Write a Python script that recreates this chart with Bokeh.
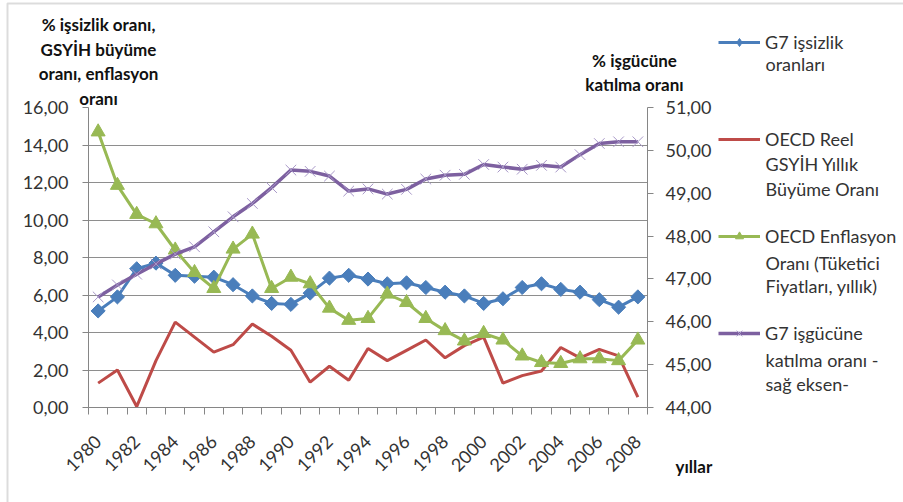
import numpy as np
from bokeh.plotting import figure
from bokeh.models import (Range1d, LinearAxis, FixedTicker, Label, Legend, LegendItem,
                          BoxAnnotation)
from bokeh.embed import file_html
from bokeh.resources import INLINE

years = list(range(1980, 2009))
unemployment = [5.15, 5.9, 7.4, 7.7, 7.05, 7.0, 6.95, 6.55, 5.95, 5.55, 5.5, 6.1, 6.9, 7.05, 6.85,
                6.6, 6.65, 6.4, 6.15, 5.95, 5.55, 5.8, 6.4, 6.6, 6.3, 6.15, 5.75, 5.35, 5.9]
gdp_growth = [1.3, 2.0, 0.05, 2.5, 4.55, 3.75, 2.95, 3.35, 4.45, 3.8, 3.05, 1.35, 2.2, 1.45, 3.15,
              2.5, 3.05, 3.6, 2.65, 3.3, 3.75, 1.3, 1.7, 1.95, 3.2, 2.65, 3.1, 2.75, 0.55]
inflation = [14.7, 11.85, 10.3, 9.8, 8.4, 7.2, 6.35, 8.45, 9.25, 6.35, 6.95, 6.6, 5.3, 4.65, 4.75,
             6.05, 5.6, 4.75, 4.1, 3.55, 3.95, 3.6, 2.75, 2.4, 2.35, 2.6, 2.6, 2.5, 3.6]
participation = [46.58, 46.86, 47.11, 47.35, 47.58, 47.75, 48.1, 48.45, 48.76, 49.13, 49.54, 49.51,
                 49.4, 49.05, 49.1, 48.98, 49.09, 49.33, 49.42, 49.44, 49.67, 49.61, 49.56, 49.65,
                 49.61, 49.9, 50.16, 50.2, 50.2]

left_ticks = [0, 2, 4, 6, 8, 10, 12, 14, 16]
left_tick_labels = ["0,00", "2,00", "4,00", "6,00", "8,00", "10,00", "12,00", "14,00", "16,00"]
right_ticks = [44, 45, 46, 47, 48, 49, 50, 51]
right_tick_labels = ["44,00", "45,00", "46,00", "47,00", "48,00", "49,00", "50,00", "51,00"]
x_tick_years = list(range(1980, 2009, 2))

series_names = [["G7 işsizlik", "oranları"],
                ["OECD Reel", "GSYİH Yıllık", "Büyüme Oranı"],
                ["OECD Enflasyon", "Oranı (Tüketici", "Fiyatları, yıllık)"],
                ["G7 işgücüne", "katılma oranı -", "sağ eksen-"]]
left_title = ["% işsizlik oranı,", "GSYİH büyüme", "oranı, enflasyon", "oranı"]
right_title = ["% işgücüne", "katılma oranı"]
x_title = "yıllar"

FONT = "Lato"
TXT = "#333333"
AX = "#868686"
W, H = 903, 502

BLUE = "#4a7ebb"
RED = "#be4b48"
GREEN = "#98b954"
PURPLE = "#7d60a0"
XMARK = "#a898c8"

p = figure(width=W, height=H, output_backend="svg", toolbar_location=None,
           x_range=Range1d(1979.5, 2008.5), y_range=Range1d(0, 16),
           min_border_left=88, min_border_right=256, min_border_top=107, min_border_bottom=95)
p.outline_line_color = None
p.background_fill_color = "white"
p.border_fill_color = "white"

p.extra_y_ranges = {"right": Range1d(44, 51)}

xa = p.xaxis[0]
xa.ticker = FixedTicker(ticks=x_tick_years, minor_ticks=[y - 0.5 for y in years] + [years[-1] + 0.5])
xa.major_tick_out = 0
xa.major_tick_in = 0
xa.minor_tick_out = 7
xa.minor_tick_in = 0
xa.minor_tick_line_color = AX
xa.axis_line_color = AX
xa.major_label_orientation = np.pi / 4
xa.major_label_standoff = 24
xa.major_label_text_font = FONT
xa.major_label_text_font_size = "18px"
xa.major_label_text_color = TXT

ya = p.yaxis[0]
ya.ticker = FixedTicker(ticks=left_ticks)
ya.major_label_overrides = {t: l for t, l in zip(left_ticks, left_tick_labels)}
ya.major_tick_out = 6
ya.major_tick_in = 0
ya.minor_tick_line_color = None
ya.major_tick_line_color = AX
ya.axis_line_color = AX
ya.major_label_standoff = 14
ya.major_label_text_font = FONT
ya.major_label_text_font_size = "18px"
ya.major_label_text_color = TXT

ra = LinearAxis(y_range_name="right", ticker=FixedTicker(ticks=right_ticks))
ra.major_label_overrides = {t: l for t, l in zip(right_ticks, right_tick_labels)}
ra.major_tick_out = 6
ra.major_tick_in = 0
ra.minor_tick_line_color = None
ra.major_tick_line_color = AX
ra.axis_line_color = AX
ra.major_label_standoff = 12
ra.major_label_text_font = FONT
ra.major_label_text_font_size = "18px"
ra.major_label_text_color = TXT
p.add_layout(ra, "right")

p.xgrid.visible = False
p.ygrid.grid_line_color = "#8e8e8e"
p.ygrid.grid_line_width = 1

p.line(years, unemployment, line_color=BLUE, line_width=3)
p.scatter(years, unemployment, marker="square", angle=np.pi / 4, size=10,
          fill_color=BLUE, line_color=BLUE)
p.line(years, gdp_growth, line_color=RED, line_width=3)
p.line(years, inflation, line_color=GREEN, line_width=3)
p.scatter(years, inflation, marker="triangle", size=14, fill_color=GREEN, line_color=GREEN)
p.line(years, participation, line_color=PURPLE, line_width=3.5, y_range_name="right")
p.scatter(years, participation, marker="x", size=15, line_color=XMARK, line_width=1,
          y_range_name="right")

# transparent overlay layer for the legend and free-standing texts (pixel coords, y down)
q = figure(width=W, height=H, output_backend="svg", toolbar_location=None,
           x_range=Range1d(0, W), y_range=Range1d(H, 0), min_border=0,
           x_axis_location=None, y_axis_location=None,
           styles={"position": "absolute", "left": "0px", "top": "0px"})
q.outline_line_color = None
q.background_fill_alpha = 0
q.border_fill_alpha = 0
q.grid.visible = False
q.add_layout(BoxAnnotation(left=7, right=W + 20, top=3, bottom=H + 20, fill_alpha=0,
                           line_color="#8c8c8c", line_width=2))

# legend swatches: hidden copies of the series, used only for their legend glyphs
k1 = [q.line(years, unemployment, line_color=BLUE, line_width=3, visible=False),
      q.scatter(years, unemployment, marker="diamond", size=14,
                fill_color=BLUE, line_color=BLUE, visible=False)]
k2 = [q.line(years, gdp_growth, line_color=RED, line_width=3, visible=False)]
k3 = [q.line(years, inflation, line_color=GREEN, line_width=3, visible=False),
      q.scatter(years, inflation, marker="triangle", size=14, fill_color=GREEN,
                line_color=GREEN, visible=False)]
k4 = [q.line(years, participation, line_color=PURPLE, line_width=3.5, visible=False),
      q.scatter(years, participation, marker="x", size=15, line_color=XMARK, line_width=1,
                visible=False)]

legend = Legend(items=[LegendItem(label=n[0], renderers=rs)
                       for n, rs in zip(series_names, [k1, k2, k3, k4])],
                location=(718, 158), glyph_width=42, glyph_height=20, label_height=20,
                label_standoff=5, padding=0, margin=0, spacing=75, border_line_color=None,
                background_fill_alpha=0, label_text_font=FONT,
                label_text_font_size="18px", label_text_color=TXT)
q.add_layout(legend, "center")

extra_rows = [[63], [163, 188], [262, 285], [359, 383]]
for names, ys in zip(series_names, extra_rows):
    for txt, yy in zip(names[1:], ys):
        q.add_layout(Label(x=765, y=yy, text=txt, text_font=FONT, text_font_size="18px",
                           text_color=TXT, text_baseline="middle", text_align="left"))

for txt, yy in zip(left_title, [24, 48.5, 73, 97.5]):
    q.add_layout(Label(x=98, y=yy, text=txt, text_font=FONT, text_font_size="17px",
                       text_font_style="bold", text_color="#111111",
                       text_baseline="middle", text_align="center"))
for txt, yy in zip(right_title, [60, 84]):
    q.add_layout(Label(x=634, y=yy, text=txt, text_font=FONT, text_font_size="17px",
                       text_font_style="bold", text_color="#111111",
                       text_baseline="middle", text_align="center"))
q.add_layout(Label(x=675, y=466, text=x_title, text_font=FONT, text_font_size="17px",
                   text_font_style="bold", text_color="#111111",
                   text_baseline="middle", text_align="left"))

open("out.html", "w").write(file_html([p, q], INLINE))
